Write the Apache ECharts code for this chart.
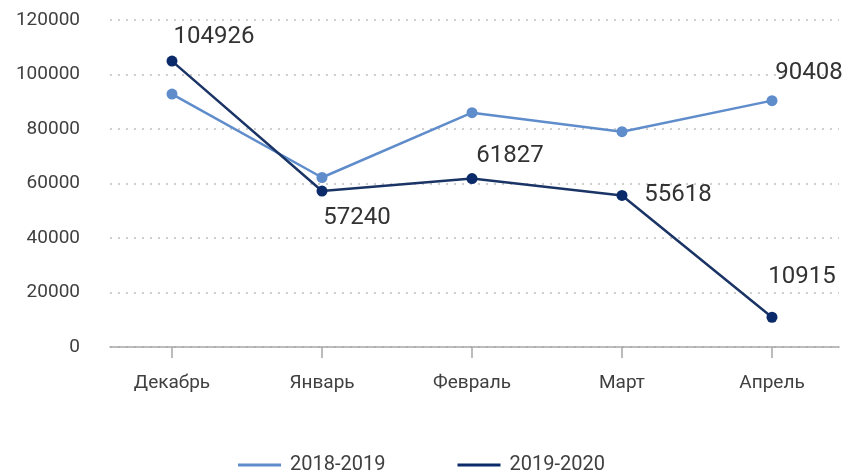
<!DOCTYPE html>
<html>
<head>
<meta charset="utf-8">
<script src="https://cdn.jsdelivr.net/npm/echarts@6/dist/echarts.min.js"></script>
<style>
  html, body { margin: 0; padding: 0; background: #fff; }
  #chart { width: 843px; height: 471px; }
</style>
</head>
<body>
<div id="chart"></div>
<script>
// месяцы
var months = ['Декабрь', 'Январь', 'Февраль', 'Март', 'Апрель'];
var seriesNames = ['2018-2019', '2019-2020'];
var values2018 = [92800, 62200, 86000, 79000, 90408];
var values2020 = [104926, 57240, 61827, 55618, 10915];

// какие точки подписаны и куда сдвинуть подпись
var labels2018 = [null, null, null, null, [37, -28]];
var labels2020 = [[42, -24], [35, 27], [38, -23], [56, 0], [30, -40]];

var colorLight = '#5f8ccb';
var colorDark = '#1b3466';
var dotDark = '#0b2a6a';

function buildData(values, offsets) {
    return values.map(function (v, i) {
        var item = { value: [i, v] };
        if (offsets[i]) {
            item.label = {
                show: true,
                position: 'inside',
                offset: offsets[i],
                formatter: String(v)
            };
        }
        return item;
    });
}

var myChart = echarts.init(document.getElementById('chart'));
var option = {
    animation: false,
    textStyle: { fontFamily: 'Roboto' },
    grid: { left: 110, right: 4, top: 20, bottom: 124 },
    legend: {
        top: 450,
        left: 'center',
        itemWidth: 43,
        itemHeight: 3,
        itemGap: 72,
        icon: 'rect',
        textStyle: { fontSize: 20, color: '#404040', padding: [0, 0, 0, 4] },
        data: seriesNames
    },
    xAxis: {
        type: 'value',
        min: -0.4133,
        max: 4.4467,
        splitLine: { show: false },
        axisLine: { show: true, lineStyle: { color: '#a6a6a6', width: 1.5 } },
        axisTick: { show: true, length: 11, customValues: [0, 1, 2, 3, 4], lineStyle: { color: '#a6a6a6', width: 1.5 } },
        axisLabel: {
            customValues: [0, 1, 2, 3, 4],
            formatter: function (v) { return months[Math.round(v)]; },
            margin: 27,
            fontSize: 19,
            color: '#404040'
        }
    },
    yAxis: {
        type: 'value',
        min: 0,
        max: 120000,
        interval: 20000,
        axisLine: { show: false },
        axisTick: { show: false },
        axisLabel: {
            margin: 30,
            fontSize: 19,
            color: '#404040',
            formatter: function (v) { return String(v); }
        },
        splitLine: {
            show: true,
            lineStyle: { color: '#c0c0c0', type: [2, 6], width: 1.5 }
        }
    },
    series: [
        {
            name: seriesNames[0],
            type: 'line',
            data: buildData(values2018, labels2018),
            symbol: 'circle',
            symbolSize: 11,
            lineStyle: { color: colorLight, width: 2.5 },
            itemStyle: { color: colorLight },
            label: { fontSize: 24, color: '#333' }
        },
        {
            name: seriesNames[1],
            type: 'line',
            data: buildData(values2020, labels2020),
            symbol: 'circle',
            symbolSize: 11,
            lineStyle: { color: colorDark, width: 2.5 },
            itemStyle: { color: dotDark },
            label: { fontSize: 24, color: '#333' }
        }
    ]
};
myChart.setOption(option);
</script>
</body>
</html>
